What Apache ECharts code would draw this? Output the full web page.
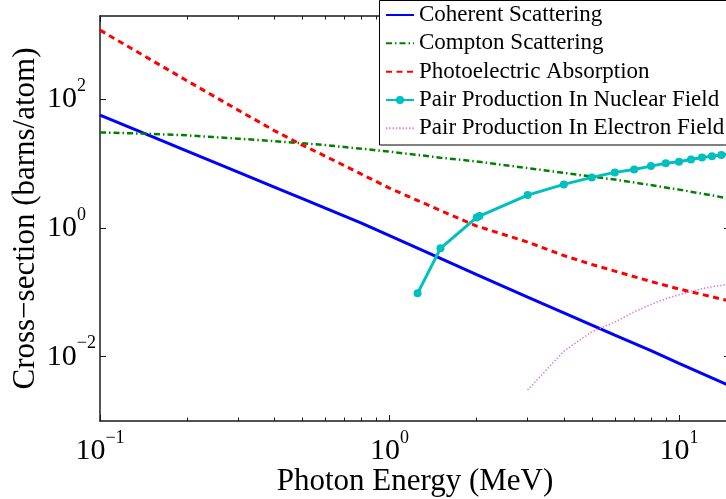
<!DOCTYPE html>
<html>
<head>
<meta charset="utf-8">
<script src="https://cdn.jsdelivr.net/npm/echarts@6/dist/echarts.min.js"></script>
<style>
  html, body { margin: 0; padding: 0; background: #fff; }
  #chart { width: 726px; height: 499px; }
</style>
</head>
<body>
<div id="chart"></div>
<script>
// photon energies (MeV) shared by the first three curves
const energy = [0.1, 0.15, 0.2, 0.3, 0.4, 0.5, 0.6, 0.8, 1, 1.5, 2, 3, 4, 5, 6, 8, 10, 15];
const coherent = [57.4, 27.0, 15.8, 7.43, 4.36, 2.88, 2.05, 1.20, 0.764, 0.339, 0.190, 0.0848, 0.0482, 0.0310, 0.0216, 0.0124, 0.00787, 0.00353];
const compton = [30.9, 29.3, 27.8, 24.7, 22.6, 20.9, 19.6, 17.2, 15.5, 12.5, 10.9, 8.6, 7.25, 6.34, 5.7, 4.68, 3.98, 2.88];
const photo = [1205, 416, 196, 68.7, 33, 19.6, 13.2, 6.92, 4.2, 1.88, 1.08, 0.608, 0.375, 0.272, 0.215, 0.148, 0.113, 0.0735];

// pair production in nuclear field
const pairNucEnergy = [1.25, 1.5, 2, 2.044, 3, 4, 5, 6, 7, 8, 9, 10, 11, 12, 13, 14, 15];
const pairNuc = [0.0968, 0.485, 1.47, 1.54, 3.27, 4.80, 6.17, 7.38, 8.21, 9.24, 10.2, 10.8, 11.7, 12.6, 13.2, 13.7, 14.2];

// pair production in electron field
const pairElecEnergy = [3, 4, 5, 6, 7, 8, 9, 10, 11, 12, 13, 14, 15];
const pairElec = [0.00303, 0.0122, 0.0245, 0.0345, 0.050, 0.0649, 0.080, 0.092, 0.104, 0.114, 0.123, 0.129, 0.137];

const xMajor = [0.1, 1, 10];
const xMinor = [0.2, 0.3, 0.4, 0.5, 0.6, 0.7, 0.8, 0.9, 2, 3, 4, 5, 6, 7, 8, 9];
const yMajor = [0.01, 1, 100];

const zip = (xs, ys) => xs.map((x, i) => [x, ys[i]]);
const font = 'Liberation Serif';
const axisColor = '#1a1a1a';

// 10^n labels with a superscript
const powLabel = v => {
    const n = Math.round(Math.log10(v));
    return n < 0 ? '{b|10}{e|\u2212' + (-n) + '}' : '{b|10}{s|' + n + '}';
};
const rich = (padShort) => ({
    b: { fontFamily: font, fontSize: 30, lineHeight: 44, color: '#000' },
    e: { fontFamily: font, fontSize: 18, lineHeight: 18, verticalAlign: 'top', color: '#000' },
    s: { fontFamily: font, fontSize: 18, lineHeight: 18, verticalAlign: 'top', color: '#000', padding: [0, padShort, 0, 0] }
});

function xAxisOf(position, ticks, len, withLabel, withLine) {
    return {
        type: 'log', min: 0.1, max: 15, position: position, offset: 0,
        axisLine: { show: withLine, lineStyle: { color: axisColor, width: 1.5 } },
        axisTick: { show: true, inside: true, length: len, customValues: ticks, lineStyle: { color: axisColor, width: 1 } },
        axisLabel: withLabel ? { show: true, customValues: ticks, margin: 8, formatter: powLabel, rich: rich(0) } : { show: false },
        splitLine: { show: false },
        minorTick: { show: false }
    };
}

const chart = echarts.init(document.getElementById('chart'));
const xAxes = [
    xAxisOf('bottom', xMajor, 6, true, true),
    xAxisOf('bottom', xMinor, 3.5, false, false),
    xAxisOf('top', xMajor, 6, false, true),
    xAxisOf('top', xMinor, 3.5, false, false)
];
xAxes[0].name = 'Photon Energy (MeV)';
xAxes[0].nameLocation = 'middle';
xAxes[0].nameGap = 45;
xAxes[0].nameMoveOverlap = false;
xAxes[0].nameTextStyle = { fontFamily: font, fontSize: 31, color: '#000' };

chart.setOption({
    animation: false,
    backgroundColor: '#fff',
    grid: { left: 100, right: -4, top: 16, bottom: 78, containLabel: false, outerBoundsMode: 'none' },
    // legend frame runs off the right edge, as in the cropped original
    graphic: [{
        type: 'rect', z: 9, silent: true,
        shape: { x: 379.5, y: 0.5, width: 400, height: 144.5 },
        style: { fill: '#fff', stroke: '#000', lineWidth: 1 }
    }],
    legend: {
        orient: 'vertical',
        left: 379, top: 0,
        padding: [3.5, 20, 5.2, 6],
        itemWidth: 28, itemHeight: 10, itemGap: 5.33,
        textStyle: { fontFamily: font, fontSize: 23, lineHeight: 23, color: '#000' },
        z: 10,
        data: [
            { name: 'Coherent Scattering', itemStyle: { opacity: 0 } },
            { name: 'Compton Scattering', itemStyle: { opacity: 0 } },
            { name: 'Photoelectric Absorption', itemStyle: { opacity: 0 } },
            { name: 'Pair Production In Nuclear Field' },
            { name: 'Pair Production In Electron Field', itemStyle: { opacity: 0 } }
        ]
    },
    xAxis: xAxes,
    yAxis: [
        {
            type: 'log', min: 0.001, max: 2000, position: 'left',
            name: 'Cross\u2212section (barns/atom)',
            nameLocation: 'middle', nameGap: 59, nameMoveOverlap: false,
            nameTextStyle: { fontFamily: font, fontSize: 31, color: '#000' },
            axisLine: { show: true, lineStyle: { color: axisColor, width: 1.5 } },
            axisTick: { show: true, inside: true, length: 6, customValues: yMajor, lineStyle: { color: axisColor, width: 1 } },
            axisLabel: { show: true, customValues: yMajor, margin: 4, formatter: powLabel, rich: rich(10) },
            splitLine: { show: false }
        },
        {
            type: 'log', min: 0.001, max: 2000, position: 'right', offset: 0,
            axisLine: { show: true, lineStyle: { color: axisColor, width: 1.5 } },
            axisTick: { show: true, inside: true, length: 6, customValues: yMajor, lineStyle: { color: axisColor, width: 1 } },
            axisLabel: { show: false },
            splitLine: { show: false }
        }
    ],
    series: [
        {
            name: 'Coherent Scattering', type: 'line', symbol: 'none',
            data: zip(energy, coherent),
            lineStyle: { color: '#0000ff', width: 3 }, itemStyle: { color: '#0000ff' }
        },
        {
            name: 'Compton Scattering', type: 'line', symbol: 'none',
            data: zip(energy, compton),
            lineStyle: { color: '#008000', width: 2.5, type: [6, 3, 1.5, 3] }, itemStyle: { color: '#008000' }
        },
        {
            name: 'Photoelectric Absorption', type: 'line', symbol: 'none',
            data: zip(energy, photo),
            lineStyle: { color: '#ff0000', width: 3, type: [6, 4.5] }, itemStyle: { color: '#ff0000' }
        },
        {
            name: 'Pair Production In Nuclear Field', type: 'line',
            symbol: 'circle', symbolSize: 8, showAllSymbol: true,
            data: zip(pairNucEnergy, pairNuc),
            lineStyle: { color: '#00bfbf', width: 3 }, itemStyle: { color: '#00bfbf' }
        },
        {
            name: 'Pair Production In Electron Field', type: 'line', symbol: 'none',
            data: zip(pairElecEnergy, pairElec),
            lineStyle: { color: '#e070e0', width: 1.6, type: [1.3, 2] }, itemStyle: { color: '#e070e0' }
        }
    ]
});
</script>
</body>
</html>
